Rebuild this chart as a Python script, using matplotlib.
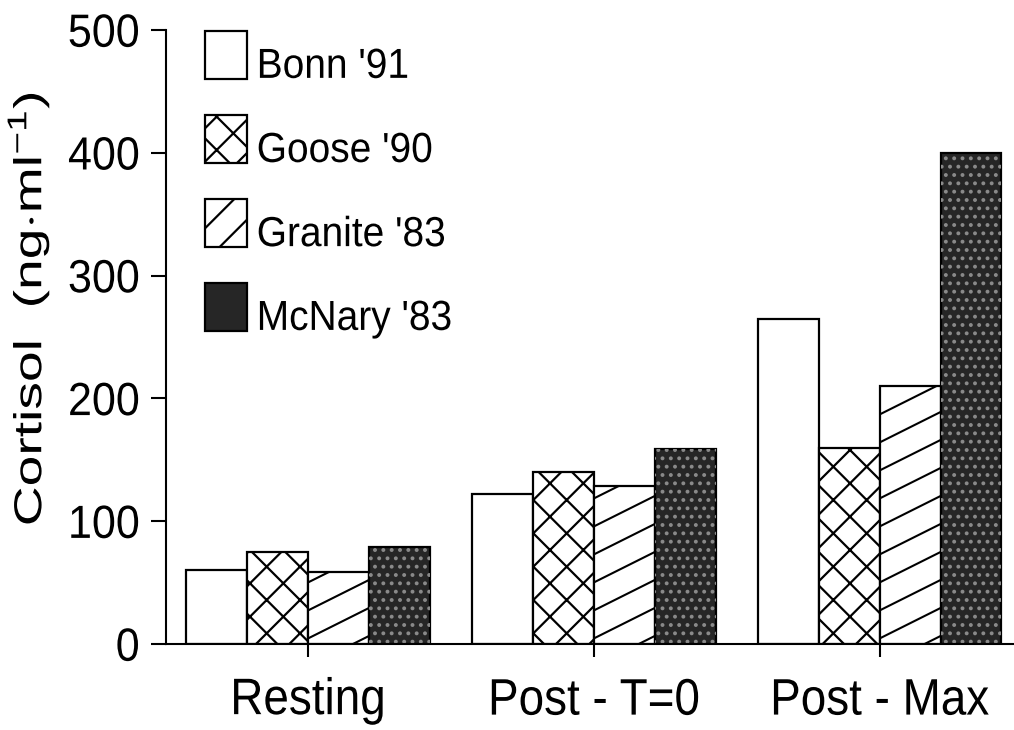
import numpy as np
import matplotlib
matplotlib.use("Agg")
import matplotlib.pyplot as plt
from matplotlib.patches import Patch
from matplotlib.patheffects import AbstractPathEffect
from matplotlib.transforms import Affine2D

# data
groups = ["Resting", "Post - T=0", "Post - Max"]
series = ["Bonn '91", "Goose '90", "Granite '83", "McNary '83"]
bonn = [60, 122, 265]
goose = [75, 140, 160]
granite = [59, 129, 210]
mcnary = [79, 159, 400]
yticks = [0, 100, 200, 300, 400, 500]


class Stretch(AbstractPathEffect):
    """scale glyphs about their own centre (the scan is a bit stretched)"""
    def __init__(self, sx=1.0, sy=1.0, dy=0.0):
        super().__init__()
        self.sx, self.sy, self.dy = sx, sy, dy

    def draw_path(self, renderer, gc, tpath, affine, rgbFace=None):
        ext = tpath.get_extents()
        cx, cy = (ext.x0 + ext.x1) / 2, (ext.y0 + ext.y1) / 2
        t = Affine2D().translate(-cx, -cy).scale(self.sx, self.sy).translate(cx, cy)
        renderer.draw_path(gc, tpath, t + affine + Affine2D().translate(0, self.dy), rgbFace)


fam = "Liberation Sans"
plt.rcParams["font.family"] = [fam, "DejaVu Sans"]
plt.rcParams["mathtext.fontset"] = "custom"
plt.rcParams["mathtext.rm"] = fam
plt.rcParams["hatch.linewidth"] = 1.6

fig = plt.figure(figsize=(10.14, 7.30), dpi=100)
ax = fig.add_axes([166 / 1014, 86 / 730, 1 - 166 / 1014, (644 - 30) / 730])

x = np.arange(len(groups))
w = 0.213
lw = 1.6
b1 = ax.bar(x - 1.5 * w, bonn, w, facecolor="white", edgecolor="black", lw=lw)
b2 = ax.bar(x - 0.5 * w, goose, w, facecolor="white", edgecolor="black", lw=lw, hatch="x")
b3 = ax.bar(x + 0.5 * w, granite, w, facecolor="white", edgecolor="black", lw=lw)
b4 = ax.bar(x + 1.5 * w, mcnary, w, facecolor="#262626", edgecolor="black", lw=lw)
# speckle on the dark bars
ax.bar(x + 1.5 * w, mcnary, w, facecolor="none", edgecolor="#8a8a8a", lw=0, hatch="..")

ax.set_xlim(-0.497, 2.47)
ax.set_ylim(0, 500)

# shallow diagonal lines for Granite, clipped to each bar
inv = ax.transData.inverted()
for bar in b3:
    bb = bar.get_window_extent(renderer=fig.canvas.get_renderer())
    wd = bb.x1 - bb.x0
    for y0 in np.arange(bb.y0 - 0.5 * wd + 8, bb.y1 + 1, 28):
        pts = inv.transform([[bb.x0, y0], [bb.x1, y0 + 0.5 * wd]])
        ln, = ax.plot(pts[:, 0], pts[:, 1], color="black", lw=1.5)
        ln.set_clip_path(bar)

ax.spines["top"].set_visible(False)
ax.spines["right"].set_visible(False)
ax.spines["left"].set_linewidth(1.5)
ax.spines["bottom"].set_linewidth(1.5)

ax.set_yticks(yticks)
ax.set_xticks(x)
ax.set_xticklabels(groups)
ax.tick_params(axis="y", direction="out", length=11, width=1.5, pad=8, labelsize=31)
ax.tick_params(axis="x", direction="out", length=9, width=1.5, pad=16, labelsize=33)
for lbl in ax.get_yticklabels():
    lbl.set_path_effects([Stretch(1.0, 1.08)])
for lbl in ax.get_xticklabels():
    lbl.set_path_effects([Stretch(1.0, 1.12)])

ax.set_ylabel(r"Cortisol  (ng$\cdot$ml$^{\mathrm{-1}}$)", fontsize=28)
ax.yaxis.set_label_coords(-0.135, 0.546)
ax.yaxis.label.set_path_effects([Stretch(1.42, 1.0)])

handles = [
    Patch(facecolor="white", edgecolor="black", lw=lw),
    Patch(facecolor="white", edgecolor="black", lw=lw, hatch="x"),
    Patch(facecolor="white", edgecolor="black", lw=lw, hatch="/"),
    Patch(facecolor="#262626", edgecolor="black", lw=lw),
]
leg = ax.legend(handles, series, loc="upper left", bbox_to_anchor=(205 / 1014, 1 - 31 / 730),
                bbox_transform=fig.transFigure, frameon=False, fontsize=28,
                handlelength=1.08, handleheight=1.52, labelspacing=0.93, handletextpad=0.25,
                borderpad=0, borderaxespad=0)
for t in leg.get_texts():
    t.set_path_effects([Stretch(1.0, 1.08, dy=-9)])

fig.savefig("out.png", dpi=100)
